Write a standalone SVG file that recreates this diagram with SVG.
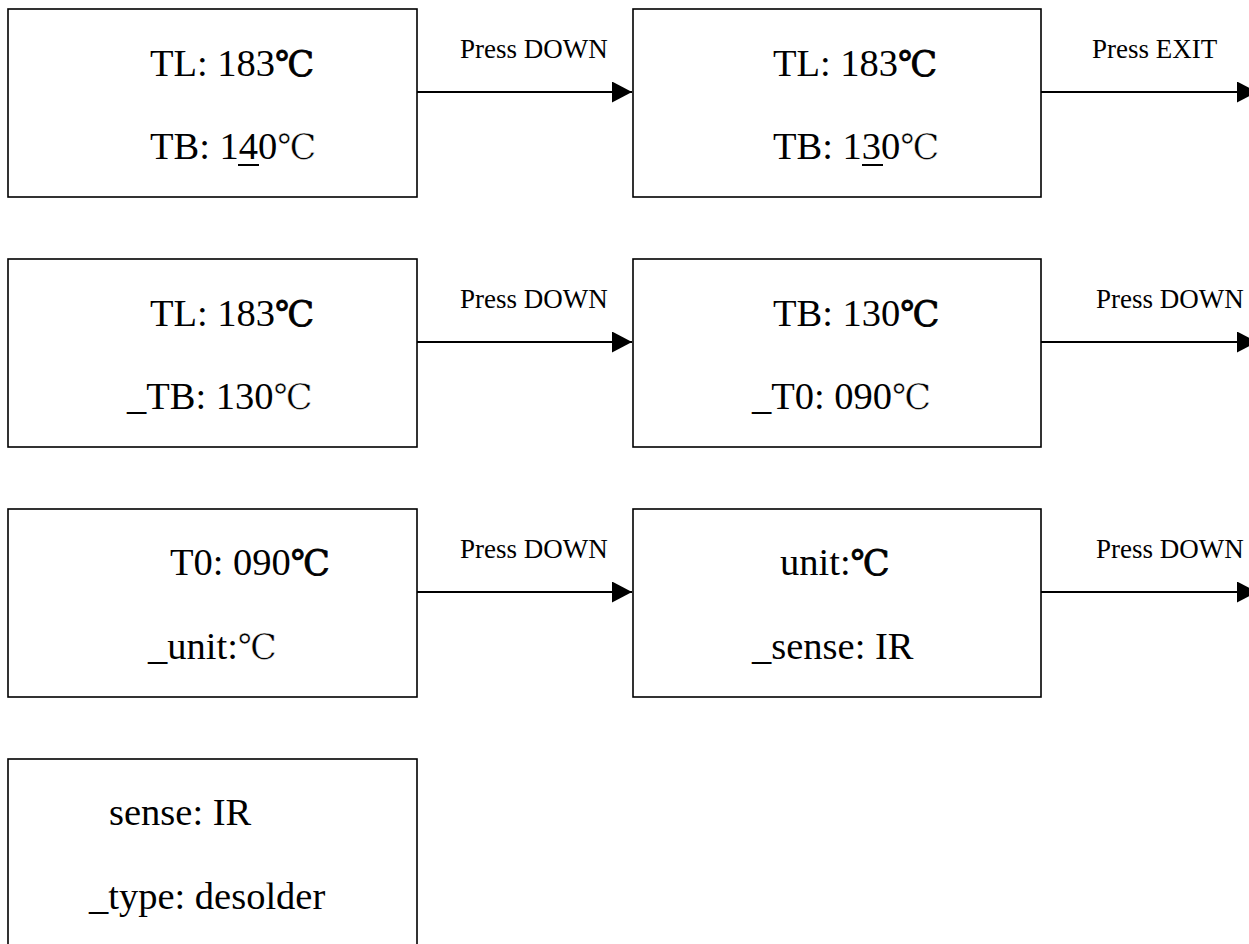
<svg xmlns="http://www.w3.org/2000/svg" width="1249" height="944" viewBox="0 0 1249 944">
  <style>
    .box { fill: #ffffff; stroke: #000000; stroke-width: 1.6; }
    .txt { font-family: "Liberation Serif", "Times New Roman", "Noto Sans CJK SC", serif; font-size: 38.5px; fill: #000000; }
    .lbl { font-family: "Liberation Serif", "Times New Roman", serif; font-size: 27px; fill: #000000; }
    .deg1 { font-family: "DejaVu Serif", "Noto Sans CJK SC", serif; font-size: 35px; font-weight: normal; stroke: #000000; stroke-width: 0.8px; paint-order: stroke fill; }
    .deg2 { font-family: "DejaVu Serif", "Noto Sans CJK SC", serif; font-size: 35px; font-weight: normal; stroke: #ffffff; stroke-width: 0.5px; }
    .edge { stroke: #000000; stroke-width: 1.8; fill: none; marker-end: url(#arrow); }
    .ul { stroke: #000000; stroke-width: 2; }
  </style>
  <defs>
    <marker id="arrow" markerUnits="userSpaceOnUse" markerWidth="22" markerHeight="22" refX="20" refY="10.5" orient="auto">
      <path d="M0,0 L20,10.5 L0,21 Z" fill="#000000"/>
    </marker>
  </defs>
  <rect width="1249" height="944" fill="#ffffff"/>

  <!-- state screens -->
  <g id="screen-tb140">
    <rect class="box" x="8" y="9" width="409" height="188"/>
    <text class="txt" x="150" y="76">TL: 183<tspan class="deg1">℃</tspan></text>
    <text class="txt" x="150" y="159">TB: 140<tspan class="deg2">℃</tspan></text>
    <line class="ul" x1="238" y1="165" x2="259" y2="165"/>
  </g>
  <g id="screen-tb130">
    <rect class="box" x="633" y="9" width="408" height="188"/>
    <text class="txt" x="773" y="76">TL: 183<tspan class="deg1">℃</tspan></text>
    <text class="txt" x="773" y="159">TB: 130<tspan class="deg2">℃</tspan></text>
    <line class="ul" x1="862" y1="165" x2="883" y2="165"/>
  </g>
  <g id="menu-tb">
    <rect class="box" x="8" y="259" width="409" height="188"/>
    <text class="txt" x="150" y="326">TL: 183<tspan class="deg1">℃</tspan></text>
    <text class="txt" x="127" y="409">_TB: 130<tspan class="deg2">℃</tspan></text>
  </g>
  <g id="menu-t0">
    <rect class="box" x="633" y="259" width="408" height="188"/>
    <text class="txt" x="773" y="326">TB: 130<tspan class="deg1">℃</tspan></text>
    <text class="txt" x="752" y="409">_T0: 090<tspan class="deg2">℃</tspan></text>
  </g>
  <g id="menu-unit">
    <rect class="box" x="8" y="509" width="409" height="188"/>
    <text class="txt" x="170" y="575">T0: 090<tspan class="deg1">℃</tspan></text>
    <text class="txt" x="148" y="659">_unit:<tspan class="deg2">℃</tspan></text>
  </g>
  <g id="menu-sense">
    <rect class="box" x="633" y="509" width="408" height="188"/>
    <text class="txt" x="780" y="575">unit:<tspan class="deg1">℃</tspan></text>
    <text class="txt" x="752" y="659">_sense: IR</text>
  </g>
  <g id="menu-type">
    <rect class="box" x="8" y="759" width="409" height="192"/>
    <text class="txt" x="109" y="825">sense: IR</text>
    <text class="txt" x="89" y="909">_type: desolder</text>
  </g>

  <!-- transitions -->
  <g id="connectors">
    <line class="edge" x1="417" y1="92" x2="632" y2="92"/>
    <line class="edge" x1="1041" y1="92" x2="1257" y2="92"/>
    <line class="edge" x1="417" y1="342" x2="632" y2="342"/>
    <line class="edge" x1="1041" y1="342" x2="1257" y2="342"/>
    <line class="edge" x1="417" y1="592" x2="632" y2="592"/>
    <line class="edge" x1="1041" y1="592" x2="1257" y2="592"/>
    <text class="lbl" x="460" y="58">Press DOWN</text>
    <text class="lbl" x="1092" y="58">Press EXIT</text>
    <text class="lbl" x="460" y="308">Press DOWN</text>
    <text class="lbl" x="1096" y="308">Press DOWN</text>
    <text class="lbl" x="460" y="558">Press DOWN</text>
    <text class="lbl" x="1096" y="558">Press DOWN</text>
  </g>
</svg>
